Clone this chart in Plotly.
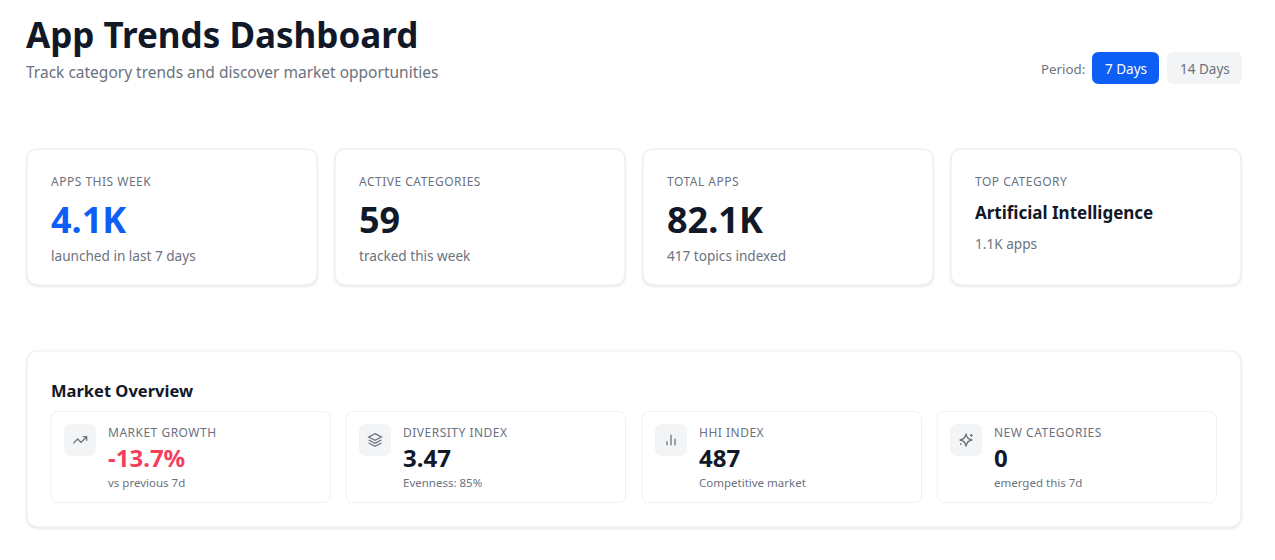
import plotly.graph_objects as go

FONT = "Noto Sans"
INK = "#111827"
MUTED = "#6b7280"
BLUE = "#0d5ef4"
RED = "#f43f5e"
SOFT = "#f3f4f6"
LINE = "#eceef1"

title_text = "App Trends Dashboard"
subtitle_text = "Track category trends and discover market opportunities"
period_label = "Period:"
period_options = ["7 Days", "14 Days"]

kpi_labels = ["APPS THIS WEEK", "ACTIVE CATEGORIES", "TOTAL APPS", "TOP CATEGORY"]
kpi_values = ["4.1K", "59", "82.1K", "Artificial Intelligence"]
kpi_notes = ["launched in last 7 days", "tracked this week", "417 topics indexed", "1.1K apps"]

panel_title = "Market Overview"
market_labels = ["MARKET GROWTH", "DIVERSITY INDEX", "HHI INDEX", "NEW CATEGORIES"]
market_values = ["-13.7%", "3.47", "487", "0"]
market_notes = ["vs previous 7d", "Evenness: 85%", "Competitive market", "emerged this 7d"]

shapes = []
annotations = []

# plotly has no letter spacing option, the small uppercase labels need it.
# annotation text is centre anchored so it has to be nudged back to the right
PAGE_JS = """
document.body.style.margin = '0';
document.querySelectorAll('.annotation-text').forEach(function (t) {
    var s = t.textContent;
    if (parseFloat(t.style.fontSize) === 12 && s === s.toUpperCase()) {
        t.style.letterSpacing = '0.5px';
        t.setAttribute('x', parseFloat(t.getAttribute('x')) + s.length * 0.25);
    }
});
"""


def round_rect(x0, y0, x1, y1, r):
    return (f"M{x0+r},{y0} L{x1-r},{y0} Q{x1},{y0} {x1},{y0+r} L{x1},{y1-r} Q{x1},{y1} {x1-r},{y1} "
            f"L{x0+r},{y1} Q{x0},{y1} {x0},{y1-r} L{x0},{y0+r} Q{x0},{y0} {x0+r},{y0} Z")


def box(x0, y0, x1, y1, r, fill, border=None, width=1):
    shapes.append(dict(type="path", path=round_rect(x0, y0, x1, y1, r), fillcolor=fill, layer="below",
                       line=dict(color=border if border else "rgba(0,0,0,0)", width=width if border else 0)))


def card(x0, y0, x1, y1, r):
    # fake box-shadow, a few stacked translucent boxes
    for grow, alpha in [(2.5, 0.012), (1.5, 0.025), (0.7, 0.04)]:
        box(x0 - grow, y0 - grow + 1, x1 + grow, y1 + grow + 1, r + grow, f"rgba(17,24,39,{alpha})")
    box(x0, y0, x1, y1, r, "white", LINE, 1.2)


def text(x, y, s, size, color, bold=False, anchor="left"):
    annotations.append(dict(x=x, y=y, text=f"<b>{s}</b>" if bold else s, showarrow=False, xanchor=anchor,
                            yanchor="middle", xref="x", yref="y", borderpad=0,
                            font=dict(family=FONT, size=size, color=color)))


def icon(path, x, y, scale=0.667):
    # icon paths are written on a 24 unit grid, convert to page pixels
    out = []
    for tok in path.split():
        if tok == "Z":
            out.append(tok)
            continue
        cmd = ""
        if tok[0].isalpha():
            cmd = tok[0]
            tok = tok[1:]
        px_x, px_y = tok.split(",")
        out.append(f"{cmd}{x + float(px_x) * scale:.2f},{y + float(px_y) * scale:.2f}")
    shapes.append(dict(type="path", path=" ".join(out), line=dict(color=MUTED, width=1.3),
                       fillcolor="rgba(0,0,0,0)", layer="above"))


# header
text(25, 34, title_text, 35, INK, True)
text(25, 72, subtitle_text, 15.5, MUTED)
text(1040, 69, period_label, 13.3, MUTED)
box(1092, 52, 1159, 84, 7, BLUE)
text(1125.5, 69, period_options[0], 13.5, "white", anchor="center")
box(1167, 52, 1242, 84, 7, SOFT)
text(1204.5, 69, period_options[1], 13.5, MUTED, anchor="center")

# top row of cards
for i in range(4):
    left = 27 + i * 308
    card(left, 149, left + 290, 285, 12)
    text(left + 23, 181, kpi_labels[i], 12, MUTED)
    if i == 3:
        text(left + 23, 212, kpi_values[i], 17, INK, True)
        text(left + 23, 243.5, kpi_notes[i], 13.6, MUTED)
    else:
        text(left + 23, 219, kpi_values[i], 36, BLUE if i == 0 else INK, True)
        text(left + 23, 255.5, kpi_notes[i], 13.6, MUTED)

# market overview panel
card(27, 351, 1241, 527, 12)
text(50, 390, panel_title, 16.5, INK, True)

inner_left = [51, 346, 642, 937]
icon_paths = [
    "M2,17 L8.5,10.5 L13.5,15.5 L22,7 M16,7 L22,7 L22,13",
    "M12,2.5 L21.5,7.5 L12,12.5 L2.5,7.5 Z M2.5,12 L12,17 L21.5,12 M2.5,16.5 L12,21.5 L21.5,16.5",
    "M6,20 L6,14 M12,20 L12,4 M18,20 L18,10",
    "M12,2.5 Q13,11 21.5,12 Q13,13 12,21.5 Q11,13 2.5,12 Q11,11 12,2.5 Z "
    "M20,3 L20,7 M22,5 L18,5 M4,17 L4,19 M5,18 L3,18",
]
for i in range(4):
    left = inner_left[i]
    box(left, 411.5, left + 279.5, 502.5, 8, "white", "#f0f1f4", 1)
    box(left + 13, 424, left + 45, 456, 8, SOFT)
    icon(icon_paths[i], left + 21, 432)
    text(left + 56, 432, market_labels[i], 12, MUTED)
    text(left + 56, 457, market_values[i], 24, RED if i == 0 else INK, True)
    text(left + 56, 482, market_notes[i], 11.5, MUTED)

fig = go.Figure()
fig.update_layout(
    width=1275, height=560, margin=dict(l=0, r=0, t=0, b=0),
    paper_bgcolor="white", plot_bgcolor="white", showlegend=False,
    xaxis=dict(range=[0, 1275], visible=False, fixedrange=True),
    yaxis=dict(range=[560, 0], visible=False, fixedrange=True),
    shapes=shapes, annotations=annotations,
)
fig.write_html("out.html", config={"displayModeBar": False}, post_script=PAGE_JS)
